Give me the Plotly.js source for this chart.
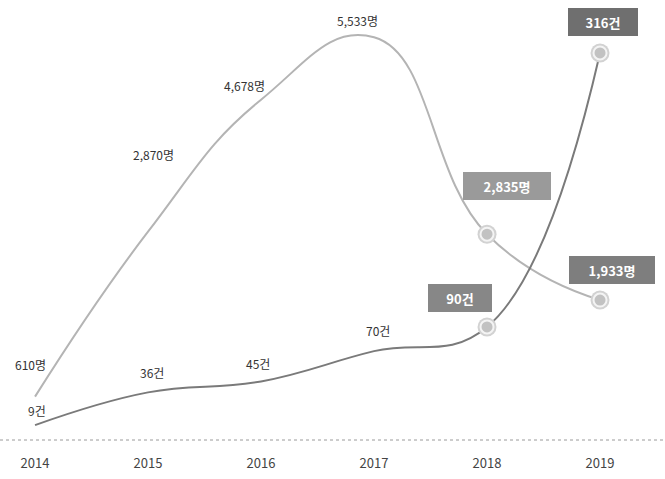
<!DOCTYPE html>
<html>
<head>
<meta charset="utf-8">
<script src="https://cdn.plot.ly/plotly-3.0.1.min.js"></script>
<style>html,body{margin:0;padding:0;background:#fff;}#chart{width:665px;height:479px;}</style>
</head>
<body>
<div id="chart"></div>
<script>
// ---- data ----
const years = [2014, 2015, 2016, 2017, 2018, 2019];
const yearLabels = ['2014', '2015', '2016', '2017', '2018', '2019'];
const people = [610, 2870, 4678, 5533, 2835, 1933];   // 명
const cases = [9, 36, 45, 70, 90, 316];                // 건
const highlighted = [2018, 2019];

// ---- styling / label placement (pixels) ----
const peopleShift = [[-5, 32], [5, 77], [-17, 14], [-17, 17], [20, 48], [12, 30]];
const casesShift = [[2, 15], [4, 20], [-3, 18], [4, 21], [-27, 29], [3, 31]];
const pillW = {people: [0, 0, 0, 0, 82, 80], cases: [0, 0, 0, 0, 58, 64]};
const pillBg = {people: [null, null, null, null, '#9a9a9a', '#7e7e7e'], cases: [null, null, null, null, '#878787', '#6f6f6f']};
const font = '"Noto Sans CJK KR", "Noto Sans", sans-serif';

const fmt = v => v.toLocaleString('en-US');

const hx = years.filter(y => highlighted.includes(y));
const hp = years.map((y, i) => highlighted.includes(y) ? people[i] : null).filter(v => v !== null);
const hc = years.map((y, i) => highlighted.includes(y) ? cases[i] : null).filter(v => v !== null);

const traces = [
  {x: years, y: people, yaxis: 'y', mode: 'lines', line: {shape: 'spline', smoothing: 1.3, color: '#b4b4b4', width: 2}, hoverinfo: 'skip'},
  {x: years, y: cases, yaxis: 'y2', mode: 'lines', line: {shape: 'spline', smoothing: 1.2, color: '#7a7a7a', width: 2}, hoverinfo: 'skip'},
  {x: hx, y: hp, yaxis: 'y', mode: 'markers', marker: {size: 19, color: '#d2d2d2'}, hoverinfo: 'skip'},
  {x: hx, y: hp, yaxis: 'y', mode: 'markers', marker: {size: 13, color: '#c2c2c2', line: {color: '#f4f4f4', width: 2}}, hoverinfo: 'skip'},
  {x: hx, y: hc, yaxis: 'y2', mode: 'markers', marker: {size: 19, color: '#d2d2d2'}, hoverinfo: 'skip'},
  {x: hx, y: hc, yaxis: 'y2', mode: 'markers', marker: {size: 13, color: '#c2c2c2', line: {color: '#f4f4f4', width: 2}}, hoverinfo: 'skip'}
];

const annotations = [];
function addLabels(vals, unit, yref, shifts, key) {
  vals.forEach((v, i) => {
    const isPill = highlighted.includes(years[i]);
    const a = {
      x: years[i], y: v, xref: 'x', yref: yref, showarrow: false,
      text: isPill ? '<b>' + fmt(v) + unit + '</b>' : fmt(v) + unit,
      xshift: shifts[i][0], yshift: shifts[i][1],
      font: {family: font, size: isPill ? 13 : 12, color: isPill ? '#ffffff' : '#333333'}
    };
    if (isPill) {
      a.bgcolor = pillBg[key][i];
      a.width = pillW[key][i];
      a.height = 22;
      a.borderpad = 2;
      a.bordercolor = pillBg[key][i];
    }
    annotations.push(a);
  });
}
addLabels(people, '명', 'y', peopleShift, 'people');
addLabels(cases, '건', 'y2', casesShift, 'cases');

const layout = {
  width: 665, height: 479,
  margin: {l: 0, r: 0, t: 0, b: 39},
  paper_bgcolor: '#ffffff', plot_bgcolor: '#ffffff',
  showlegend: false,
  font: {family: font, color: '#444'},
  xaxis: {
    range: [2013.69, 2019.575], tickvals: years, ticktext: yearLabels,
    showgrid: false, zeroline: false, showline: false,
    ticks: 'outside', ticklen: 11, tickcolor: 'rgba(0,0,0,0)',
    tickfont: {family: font, size: 13, color: '#444'}, fixedrange: true
  },
  yaxis: {range: [16, 6044], visible: false, showgrid: false, zeroline: false},
  yaxis2: {range: [-3.3, 359.7], overlaying: 'y', visible: false, showgrid: false, zeroline: false},
  shapes: [{type: 'line', xref: 'paper', yref: 'paper', x0: 0, x1: 1, y0: 0, y1: 0, line: {color: '#9a9a9a', width: 1, dash: 'dot'}}],
  annotations: annotations
};

Plotly.newPlot('chart', traces, layout, {displayModeBar: false, staticPlot: true});
</script>
</body>
</html>
